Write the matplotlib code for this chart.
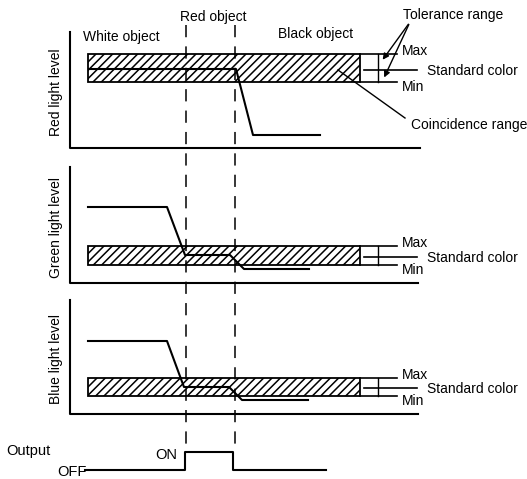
import matplotlib.pyplot as plt
from matplotlib.patches import Rectangle

plt.rcParams['font.family'] = ['Liberation Sans', 'DejaVu Sans']
plt.rcParams['hatch.linewidth'] = 1.1

# 三个通道的面板（坐标按原图像素读取）
channels = ["Red light level", "Green light level", "Blue light level"]
axis_top = [32, 167, 300]
axis_base = [148, 283, 414]
axis_right = [420, 418, 418]
band_top = [54, 246, 378]
band_bot = [82, 265, 396]
std_level = [70, 257, 388]

# 各通道的信号曲线
signal_x = [[89, 236, 253, 320],
            [88, 167, 182, 185, 230, 244, 309],
            [88, 167, 181, 184, 229, 242, 308]]
signal_y = [[69, 69, 135, 135],
            [207, 207, 247, 255, 255, 269, 269],
            [341, 341, 379, 387, 387, 400, 400]]

# 输出信号
output_x = [85, 185, 185, 233, 233, 326]
output_y = [470, 470, 452, 452, 470, 470]

# 红色物体的两条虚线
dash_x = [186, 235]

fig = plt.figure(figsize=(5.27, 4.79), dpi=100)
ax = fig.add_axes([0, 0, 1, 1])
ax.set_xlim(0, 527)
ax.set_ylim(479, 0)
ax.axis('off')

fs = 10
lw = 1.5
for i in range(3):
    # 坐标轴
    ax.plot([70, 70, axis_right[i]], [axis_top[i], axis_base[i], axis_base[i]], color='k', lw=lw)
    ax.text(56, (axis_top[i] + axis_base[i]) / 2 + 2, channels[i], rotation=90,
            ha='center', va='center', fontsize=fs)
    # 阴影带（一致范围）
    ax.add_patch(Rectangle((88, band_top[i]), 360 - 88, band_bot[i] - band_top[i],
                           facecolor='white', edgecolor='k', hatch='////', lw=1.3))
    # 右侧公差框
    ax.plot([360, 397], [band_top[i], band_top[i]], color='k', lw=1.2)
    ax.plot([360, 397], [band_bot[i], band_bot[i]], color='k', lw=1.2)
    ax.plot([378, 378], [band_top[i], band_bot[i]], color='k', lw=1.0)
    ax.plot([364, 417], [std_level[i], std_level[i]], color='k', lw=1.2)
    ax.text(402, band_top[i] - 3, "Max", ha='left', va='center', fontsize=fs)
    ax.text(427, std_level[i] + 1, "Standard color", ha='left', va='center', fontsize=fs)
    ax.text(402, band_bot[i] + 5, "Min", ha='left', va='center', fontsize=fs)
    # 信号
    ax.plot(signal_x[i], signal_y[i], color='k', lw=lw)

# 虚线
for x in dash_x:
    ax.plot([x, x], [25, 452], color='k', lw=1.1, linestyle=(0, (8, 6)))

# 输出
ax.plot(output_x, output_y, color='k', lw=lw)
ax.text(6, 451, "Output", ha='left', va='center', fontsize=10.5)
ax.text(155, 455, "ON", ha='left', va='center', fontsize=10.5)
ax.text(57, 472, "OFF", ha='left', va='center', fontsize=10.5)

# 文字标注
ax.text(83, 37, "White object", ha='left', va='center', fontsize=fs)
ax.text(180, 17, "Red object", ha='left', va='center', fontsize=fs)
ax.text(278, 34, "Black object", ha='left', va='center', fontsize=fs)
ax.text(403, 15, "Tolerance range", ha='left', va='center', fontsize=fs)
ax.text(411, 125, "Coincidence range", ha='left', va='center', fontsize=fs)

# 公差范围箭头
for tip in [(381, 62), (383, 80)]:
    ax.annotate("", xy=tip, xytext=(410, 22),
                arrowprops=dict(arrowstyle='-|>', color='k', lw=1.0, mutation_scale=9))
# 一致范围引线
ax.plot([338, 405], [70, 118], color='k', lw=1.0)

fig.savefig("out.png", dpi=100)
